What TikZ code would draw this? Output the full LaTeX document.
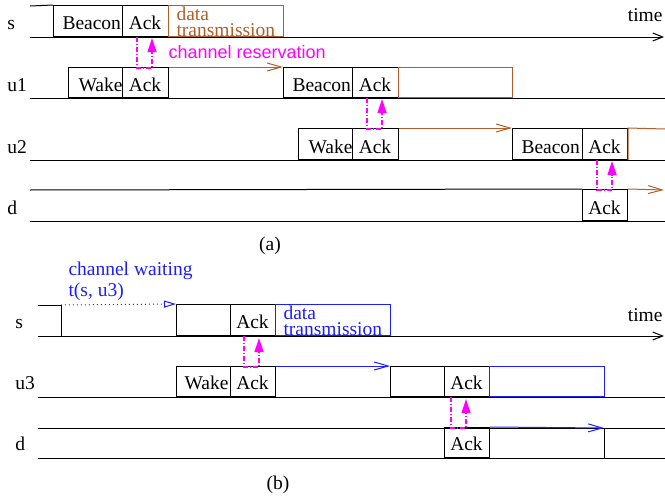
\documentclass[tikz,border=0pt]{standalone}
\usepackage{fontspec}
\setmainfont{Liberation Serif}
\newfontfamily\hvfont{Liberation Sans}
\usetikzlibrary{arrows.meta}
\definecolor{brn}{RGB}{178,94,40}
\definecolor{blu}{RGB}{30,30,250}
\definecolor{mag}{RGB}{255,0,255}
\begin{document}
\begin{tikzpicture}[x=1pt,y=-1pt,
  font=\fontsize{19.5}{20}\selectfont, line width=1pt,
  slot/.style={draw, inner sep=0pt, anchor=south west},
  txt/.style={inner sep=0pt, anchor=base west},
  ctxt/.style={inner sep=0pt, anchor=base},
  axis/.style={-{Straight Barb[length=10pt,width=8pt]}},
  flow/.style={-{Straight Barb[length=14pt,width=8pt]}},
  wait/.style={blu, dash pattern=on 1pt off 3pt, -{Triangle[open,length=12pt,width=7pt]}},
  resv/.style={mag, line width=1.2pt, dash pattern=on 5pt off 2pt on 1pt off 2pt, -{Triangle[length=14pt,width=9pt]}}]
\useasboundingbox (0,0) rectangle (665,498);

% ---------------- (a) ----------------
% row s
\node[slot, minimum width=69pt, minimum height=31pt] (sBeacon) at (53,37) {};
\node[slot, minimum width=46pt, minimum height=31pt] (sAck) at (122,37) {};
\node[slot, draw=brn, minimum width=115pt, minimum height=31pt] (sData) at (168,37) {};
\coordinate (sL) at (30,6);
\draw (sL) -- (sBeacon.north west);
\coordinate (sB0) at (30,37); \coordinate (sB1) at (664,37);
\draw[axis] (sB0) -- (sB1);
\node[txt] (ls) at (7,29) {s};
\node[txt] (tsBeacon) at (62,29) {Beacon};
\node[ctxt] (tsAck) at (145,29) {Ack};
\node[txt, text=brn] (tsData) at (176,20) {data};
\node[txt, text=brn] (tsTrans) at (176,36) {transmission};
\node[inner sep=0pt, anchor=base east] (time1) at (663,21) {time};
\node[txt, text=mag, font=\hvfont\fontsize{18}{18}\selectfont] (cres) at (168,58) {channel reservation};

% row u1
\node[slot, minimum width=54pt, minimum height=30pt] (u1Wake) at (68,98) {};
\node[slot, minimum width=46pt, minimum height=30pt] (u1Ack) at (122,98) {};
\node[slot, minimum width=69pt, minimum height=30pt] (u1Beacon) at (283,98) {};
\node[slot, minimum width=46pt, minimum height=30pt] (u1Ack2) at (352,98) {};
\node[slot, draw=brn, minimum width=114pt, minimum height=30pt] (u1Data) at (398,98) {};
\draw[brn, flow] (u1Ack.north east) -- (u1Beacon.north west);
\coordinate (u1B0) at (30,98); \coordinate (u1B1) at (665,98);
\draw (u1B0) -- (u1B1);
\node[txt] (lu1) at (7,91) {u1};
\node[txt] (tu1Wake) at (78,91) {Wake};
\node[ctxt] (tu1Ack) at (145,91) {Ack};
\node[txt] (tu1Beacon) at (292,91) {Beacon};
\node[ctxt] (tu1Ack2) at (375,91) {Ack};

% row u2
\node[slot, minimum width=54pt, minimum height=31pt] (u2Wake) at (298,160) {};
\node[slot, minimum width=46pt, minimum height=31pt] (u2Ack) at (352,160) {};
\node[slot, minimum width=70pt, minimum height=31pt] (u2Beacon) at (512,160) {};
\node[slot, minimum width=45pt, minimum height=31pt] (u2Ack2) at (582,160) {};
\draw[brn, flow] (u2Ack.north east) -- (u2Beacon.north west);
\coordinate (u2End) at (665,129);
\draw[brn] (u2End) -- (u2Ack2.north east) -- (u2Ack2.south east);
\coordinate (u2B0) at (30,160); \coordinate (u2B1) at (665,160);
\draw (u2B0) -- (u2B1);
\node[txt] (lu2) at (7,153) {u2};
\node[txt] (tu2Wake) at (308,153) {Wake};
\node[ctxt] (tu2Ack) at (375,153) {Ack};
\node[txt] (tu2Beacon) at (521,153) {Beacon};
\node[ctxt] (tu2Ack2) at (604.5,153) {Ack};

% row d
\node[slot, minimum width=45pt, minimum height=31pt] (dAck) at (582,221) {};
\coordinate (dL) at (30,190);
\draw (dL) -- (dAck.north west);
\coordinate (dEnd) at (664,190);
\draw[brn, flow] (dAck.north east) -- (dEnd);
\coordinate (dB0) at (30,221); \coordinate (dB1) at (665,221);
\draw (dB0) -- (dB1);
\node[txt] (ld) at (7,214) {d};
\node[ctxt] (tdAck) at (604.5,214) {Ack};

% reservations (a)
\coordinate (m1a) at (137,37); \coordinate (m1b) at (137,68);
\coordinate (m1c) at (152,68); \coordinate (m1d) at (152,38);
\draw[resv] (m1a) -- (m1b) -- (m1c) -- (m1d);
\coordinate (m2a) at (367,98); \coordinate (m2b) at (367,129);
\coordinate (m2c) at (382,129); \coordinate (m2d) at (382,99);
\draw[resv] (m2a) -- (m2b) -- (m2c) -- (m2d);
\coordinate (m3a) at (597,160); \coordinate (m3b) at (597,190);
\coordinate (m3c) at (612,190); \coordinate (m3d) at (612,161);
\draw[resv] (m3a) -- (m3b) -- (m3c) -- (m3d);

\node[ctxt] (capa) at (270,250) {(a)};

% ---------------- (b) ----------------
\node[txt, text=blu] (cw1) at (68,275) {channel waiting};
\node[txt, text=blu] (cw2) at (68,296) {t(s, u3)};

% row s
\node[slot, minimum width=54pt, minimum height=31pt] (sbBlank) at (176,336) {};
\node[slot, minimum width=45pt, minimum height=31pt] (sbAck) at (230,336) {};
\node[slot, draw=blu, minimum width=115pt, minimum height=31pt] (sbData) at (275,336) {};
\coordinate (bsL) at (38,305); \coordinate (bsC) at (61,305); \coordinate (bsCb) at (61,336);
\draw (bsL) -- (bsC) -- (bsCb);
\draw[wait] (bsC) -- (sbBlank.north west);
\coordinate (bsB0) at (38,336); \coordinate (bsB1) at (664,336);
\draw[axis] (bsB0) -- (bsB1);
\node[txt] (lbs) at (15,328) {s};
\node[ctxt] (tsbAck) at (252.5,328) {Ack};
\node[txt, text=blu] (tsbData) at (283,319) {data};
\node[txt, text=blu] (tsbTrans) at (283,335) {transmission};
\node[inner sep=0pt, anchor=base east] (time2) at (663,321) {time};

% row u3
\node[slot, minimum width=54pt, minimum height=30pt] (u3Wake) at (176,397) {};
\node[slot, minimum width=45pt, minimum height=30pt] (u3Ack) at (230,397) {};
\node[slot, minimum width=54pt, minimum height=30pt] (u3Blank) at (390,397) {};
\node[slot, minimum width=45pt, minimum height=30pt] (u3Ack2) at (444,397) {};
\node[slot, draw=blu, minimum width=115pt, minimum height=30pt] (u3Data) at (489,397) {};
\draw[blu, flow] (u3Ack.north east) -- (u3Blank.north west);
\coordinate (u3B0) at (38,397); \coordinate (u3B1) at (665,397);
\draw (u3B0) -- (u3B1);
\node[txt] (lu3) at (15,389) {u3};
\node[txt] (tu3Wake) at (184,389) {Wake};
\node[ctxt] (tu3Ack) at (252.5,389) {Ack};
\node[ctxt] (tu3Ack2) at (466.5,389) {Ack};

% row d
\coordinate (bdL) at (38,428); \coordinate (bdR) at (665,428);
\draw (bdL) -- (bdR);
\node[slot, minimum width=45pt, minimum height=30pt] (dbAck) at (444,458) {};
\coordinate (bdV) at (604,428); \coordinate (bdVb) at (604,458);
\draw (bdV) -- (bdVb);
\draw[blu, flow] (dbAck.north east) -- (bdV);
\coordinate (bdB0) at (38,458); \coordinate (bdB1) at (665,458);
\draw (bdB0) -- (bdB1);
\node[txt] (lbd) at (15,450) {d};
\node[ctxt] (tdbAck) at (466.5,450) {Ack};

% reservations (b)
\coordinate (n1a) at (244,336); \coordinate (n1b) at (244,367);
\coordinate (n1c) at (259,367); \coordinate (n1d) at (259,338);
\draw[resv] (n1a) -- (n1b) -- (n1c) -- (n1d);
\coordinate (n2a) at (451,397); \coordinate (n2b) at (451,428);
\coordinate (n2c) at (466,428); \coordinate (n2d) at (466,399);
\draw[resv] (n2a) -- (n2b) -- (n2c) -- (n2d);

\node[ctxt] (capb) at (278,489) {(b)};
\end{tikzpicture}
\end{document}
